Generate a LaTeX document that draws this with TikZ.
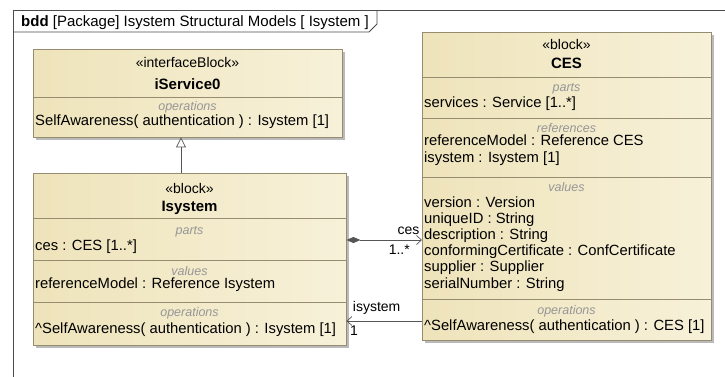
\documentclass[tikz,border=0pt]{standalone}
\usepackage{fontspec}
\setmainfont{Liberation Sans}
\usepackage{tikz}
\usetikzlibrary{positioning, arrows.meta, shadows, calc}

\definecolor{blockfill}{RGB}{238,227,186}
\definecolor{blockfillB}{RGB}{247,241,217}
\definecolor{blockline}{RGB}{150,141,112}
\definecolor{compgray}{RGB}{150,150,150}
\definecolor{linkgray}{RGB}{85,85,85}

\begin{document}
\begin{tikzpicture}[x=1pt, y=-1pt]
			\tikzset{
				blockbox/.style={draw=blockline, left color=blockfill, right color=blockfillB, anchor=north west, inner sep=0pt,
					drop shadow={shadow xshift=3pt, shadow yshift=-3pt, fill=black!45, opacity=.6}},
				divline/.style={draw=blockline, line width=.7pt},
				stereo/.style={font=\fontsize{14}{16}\selectfont, anchor=base},
				bname/.style={font=\fontsize{15}{16}\bfseries, anchor=base},
				comptitle/.style={font=\fontsize{12.5}{14}\itshape, text=compgray, anchor=base},
				feat/.style={font=\fontsize{14.8}{16.2}\selectfont, anchor=base west, align=left, inner sep=0pt},
				link/.style={draw=linkgray, line width=.7pt},
				mult/.style={font=\fontsize{14}{16}\selectfont, inner sep=0pt}
			}
			% canvas and frame
			\fill[white] (0,0) rectangle (725,376);
			\useasboundingbox (0,0) rectangle (725,376);
			\draw[black!70, line width=.8pt] (735,10) -- (13,10) -- (13,386);
			\draw[black!70, line width=.8pt] (13,32) -- (369,32) -- (377,24) -- (377,10);
			\node[anchor=base west, inner sep=0pt, font=\fontsize{15}{16}\selectfont] (title) at (21,26) {\textbf{bdd} [Package] Isystem Structural Models [ Isystem ]};

			% iService0
			\node[blockbox, minimum width=309pt, minimum height=88pt] (iservice) at (33,49) {};
			\draw[divline] (iservice.west |- 0,97) -- (iservice.east |- 0,97);
			\node[stereo] (iserviceSt) at (187.5,67) {«interfaceBlock»};
			\node[bname] (iserviceName) at (187.5,89) {iService0};
			\node[comptitle] (iserviceOpsT) at (187.5,110) {operations};
			\node[feat] (iserviceOps) at (35,125) {SelfAwareness( authentication ) : Isystem [1]};

			% Isystem
			\node[blockbox, minimum width=313pt, minimum height=172pt] (isystem) at (33,173) {};
			\draw[divline] (isystem.west |- 0,218) -- (isystem.east |- 0,218);
			\draw[divline] (isystem.west |- 0,260) -- (isystem.east |- 0,260);
			\draw[divline] (isystem.west |- 0,302) -- (isystem.east |- 0,302);
			\node[stereo] (isystemSt) at (189.5,193) {«block»};
			\node[bname] (isystemName) at (189.5,211) {Isystem};
			\node[comptitle] (isystemPartsT) at (189.5,234) {parts};
			\node[feat] (isystemParts) at (35,250) {ces : CES [1..*]};
			\node[comptitle] (isystemValsT) at (189.5,275) {values};
			\node[feat] (isystemVals) at (35,288) {referenceModel : Reference Isystem};
			\node[comptitle] (isystemOpsT) at (189.5,316) {operations};
			\node[feat] (isystemOps) at (35,333) {\textasciicircum SelfAwareness( authentication ) : Isystem [1]};

			% CES (multi-line nodes sit on the baseline of their last line)
			\node[blockbox, minimum width=289pt, minimum height=308pt] (ces) at (422,32) {};
			\draw[divline] (ces.west |- 0,77) -- (ces.east |- 0,77);
			\draw[divline] (ces.west |- 0,118) -- (ces.east |- 0,118);
			\draw[divline] (ces.west |- 0,177) -- (ces.east |- 0,177);
			\draw[divline] (ces.west |- 0,299) -- (ces.east |- 0,299);
			\node[stereo] (cesSt) at (566.5,49) {«block»};
			\node[bname] (cesName) at (566.5,68) {CES};
			\node[comptitle] (cesPartsT) at (566.5,91) {parts};
			\node[feat] (cesParts) at (424,107) {services : Service [1..*]};
			\node[comptitle] (cesRefsT) at (566.5,132) {references};
			\node[feat] (cesRefs) at (424,162) {referenceModel : Reference CES\\isystem : Isystem [1]};
			\node[comptitle] (cesValsT) at (566.5,191) {values};
			\node[feat] (cesVals) at (424,288) {version : Version\\uniqueID : String\\description : String\\conformingCertificate : ConfCertificate\\supplier : Supplier\\serialNumber : String};
			\node[comptitle] (cesOpsT) at (566.5,314) {operations};
			\node[feat] (cesOps) at (424,330) {\textasciicircum SelfAwareness( authentication ) : CES [1]};

			% connectors
			\draw[link, -{Triangle[open, length=10pt, width=10pt]}] (isystem.north -| 181,0) -- (iservice.south -| 181,0);
			\draw[link, {Diamond[length=14pt, width=6pt, fill=linkgray]}-{Straight Barb[length=5pt, width=9pt]}] (isystem.east |- 0,240) -- (ces.west |- 0,240)
				node[mult, pos=.82, above=5pt] (cesRole) {ces}
				node[mult, pos=.7, below=5pt] (cesMult) {1..*};
			\draw[link, -{Straight Barb[length=5pt, width=9pt]}] (ces.west |- 0,321) -- (isystem.east |- 0,321)
				node[mult, pos=.6, above=6pt] (isysRole) {isystem}
				node[mult, pos=.9, below=5pt] (isysMult) {1};
		\end{tikzpicture}
\end{document}
